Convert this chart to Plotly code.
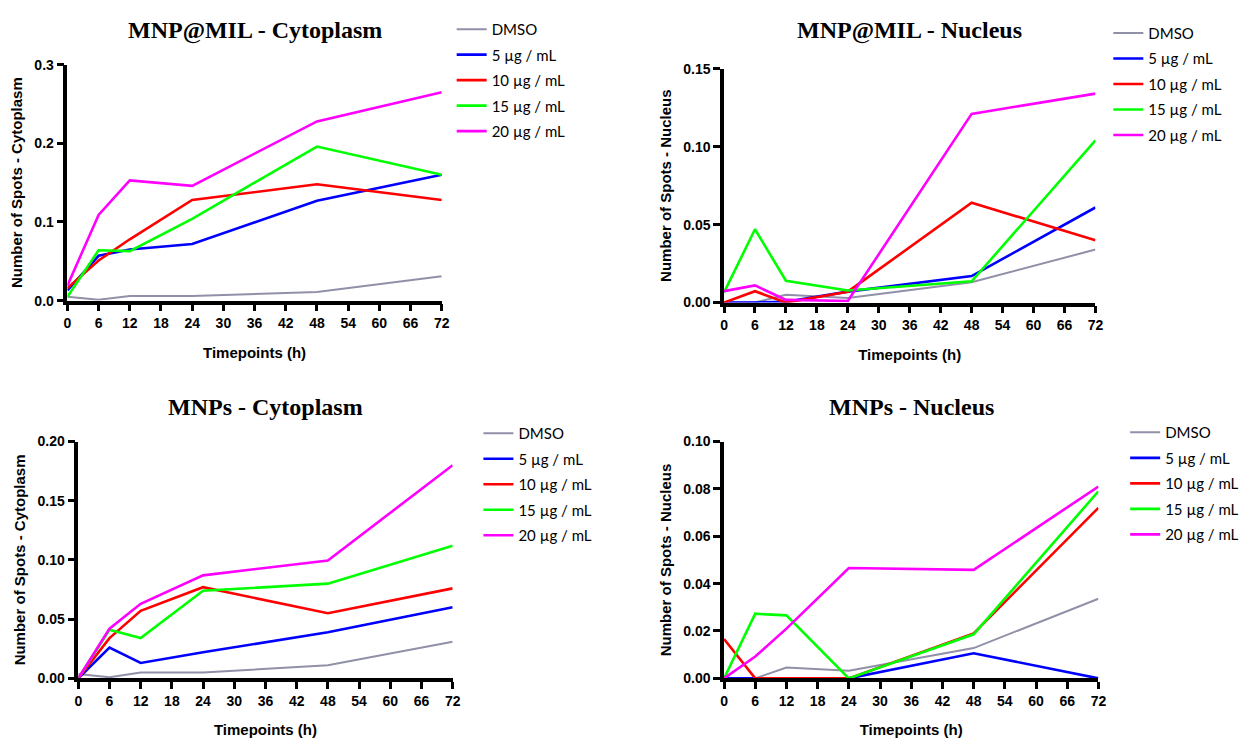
import plotly.graph_objects as go

W, H = 1253, 749

timepoints = [0, 6, 12, 24, 48, 72]
series_names = ["DMSO", "5 µg / mL", "10 µg / mL", "15 µg / mL", "20 µg / mL"]
series_colors = ["#9090a8", "#0000ff", "#ff0000", "#00ff00", "#ff00ff"]
series_widths = [2, 2.6, 2.6, 2.6, 2.6]

titles = ["MNP@MIL - Cytoplasm", "MNP@MIL - Nucleus", "MNPs - Cytoplasm", "MNPs - Nucleus"]
y_titles = ["Number of Spots - Cytoplasm", "Number of Spots - Nucleus",
            "Number of Spots - Cytoplasm", "Number of Spots - Nucleus"]
x_title = "Timepoints (h)"

# MNP@MIL - Cytoplasm
mil_cyto_dmso = [0.005, 0.001, 0.006, 0.006, 0.011, 0.031]
mil_cyto_5 = [0.013, 0.057, 0.065, 0.072, 0.127, 0.160]
mil_cyto_10 = [0.016, 0.051, 0.078, 0.128, 0.148, 0.128]
mil_cyto_15 = [0.005, 0.064, 0.063, 0.104, 0.196, 0.160]
mil_cyto_20 = [0.019, 0.109, 0.153, 0.146, 0.228, 0.265]

# MNP@MIL - Nucleus
mil_nuc_dmso = [0.0, 0.0, 0.005, 0.003, 0.013, 0.034]
mil_nuc_5 = [0.0, 0.0, 0.0005, 0.007, 0.017, 0.061]
mil_nuc_10 = [0.0, 0.0073, 0.0, 0.007, 0.064, 0.040]
mil_nuc_15 = [0.0065, 0.047, 0.014, 0.0077, 0.0136, 0.104]
mil_nuc_20 = [0.0073, 0.011, 0.0017, 0.001, 0.121, 0.134]

# MNPs - Cytoplasm
mnp_cyto_dmso = [0.0036, 0.001, 0.005, 0.005, 0.011, 0.031]
mnp_cyto_5 = [0.0, 0.026, 0.013, 0.022, 0.039, 0.060]
mnp_cyto_10 = [0.0, 0.034, 0.057, 0.077, 0.055, 0.076]
mnp_cyto_15 = [0.0, 0.041, 0.034, 0.074, 0.080, 0.112]
mnp_cyto_20 = [0.0, 0.042, 0.063, 0.087, 0.0996, 0.180]

# MNPs - Nucleus
mnp_nuc_dmso = [0.0, 0.0, 0.0046, 0.0032, 0.0128, 0.0336]
mnp_nuc_5 = [0.0, 0.0, 0.0, 0.0, 0.0106, 0.0]
mnp_nuc_10 = [0.0166, 0.0, 0.0, 0.0, 0.019, 0.072]
mnp_nuc_15 = [0.0, 0.0273, 0.0266, 0.0, 0.0186, 0.079]
mnp_nuc_20 = [0.0, 0.0092, 0.021, 0.0466, 0.0458, 0.081]

panels = [
    [mil_cyto_dmso, mil_cyto_5, mil_cyto_10, mil_cyto_15, mil_cyto_20],
    [mil_nuc_dmso, mil_nuc_5, mil_nuc_10, mil_nuc_15, mil_nuc_20],
    [mnp_cyto_dmso, mnp_cyto_5, mnp_cyto_10, mnp_cyto_15, mnp_cyto_20],
    [mnp_nuc_dmso, mnp_nuc_5, mnp_nuc_10, mnp_nuc_15, mnp_nuc_20],
]

y_ranges = [[0, 0.3], [0, 0.15], [0, 0.20], [0, 0.10]]
y_dticks = [0.1, 0.05, 0.05, 0.02]
y_formats = [".1f", ".2f", ".2f", ".2f"]

# layout boxes in pixels: (x0, x1, ybottom, ytop)
boxes_px = [(64, 442, 299, 58), (727, 1102, 301, 62), (75, 453, 685, 443), (727, 1105, 685, 443)]
legend_pos = [(452, 5), (1115, 9), (479, 418), (1132, 417)]

fig = go.Figure()
layout = dict(
    width=W, height=H, margin=dict(l=0, r=0, t=0, b=0),
    paper_bgcolor="white", plot_bgcolor="white",
    annotations=[],
)

for p in range(4):
    ax = "" if p == 0 else str(p + 1)
    leg = "legend" if p == 0 else "legend" + str(p + 1)
    for s in range(5):
        fig.add_trace(go.Scatter(
            x=timepoints, y=panels[p][s], mode="lines",
            name=series_names[s],
            line=dict(color=series_colors[s], width=series_widths[s]),
            xaxis="x" + ax, yaxis="y" + ax,
            legend=leg, legendgroup=f"p{p}s{s}",
        ))
    x0, x1, yb, yt = boxes_px[p]
    tickfont = dict(family="Liberation Sans", size=14, color="black", weight="bold")
    titlefont = dict(family="Liberation Sans", size=15, color="black", weight="bold")
    layout["xaxis" + ax] = dict(
        domain=[x0 / W, x1 / W], anchor="y" + ax, range=[0, 72],
        tickmode="linear", tick0=0, dtick=6,
        showline=True, linewidth=3.5, linecolor="black",
        ticks="outside", ticklen=7, tickwidth=3, tickcolor="black",
        showgrid=False, zeroline=False, tickfont=tickfont,
        title=dict(text=x_title, font=titlefont, standoff=18),
    )
    layout["yaxis" + ax] = dict(
        domain=[1 - yb / H, 1 - yt / H], anchor="x" + ax, range=y_ranges[p],
        tickmode="linear", tick0=0, dtick=y_dticks[p], tickformat=y_formats[p],
        showline=True, linewidth=3.5, linecolor="black",
        ticks="outside", ticklen=7, tickwidth=3, tickcolor="black",
        showgrid=False, zeroline=False, tickfont=tickfont,
        title=dict(text=y_titles[p], font=titlefont, standoff=9),
    )
    lx, ly = legend_pos[p]
    layout[leg] = dict(
        x=lx / W, y=1 - ly / H, xanchor="left", yanchor="top",
        font=dict(family="Lato", size=15, color="black"),
        bgcolor="rgba(0,0,0,0)", borderwidth=0, tracegroupgap=3,
        itemwidth=30,
    )
    layout["annotations"].append(dict(
        text=titles[p], xref="paper", yref="paper",
        x=(x0 + x1) / 2 / W, y=1 - (23 if p < 2 else 408) / H,
        xanchor="center", yanchor="middle", showarrow=False,
        font=dict(family="Liberation Serif", size=24, color="black", weight="bold"),
    ))

fig.update_layout(**layout)
fig.write_html("out.html")
